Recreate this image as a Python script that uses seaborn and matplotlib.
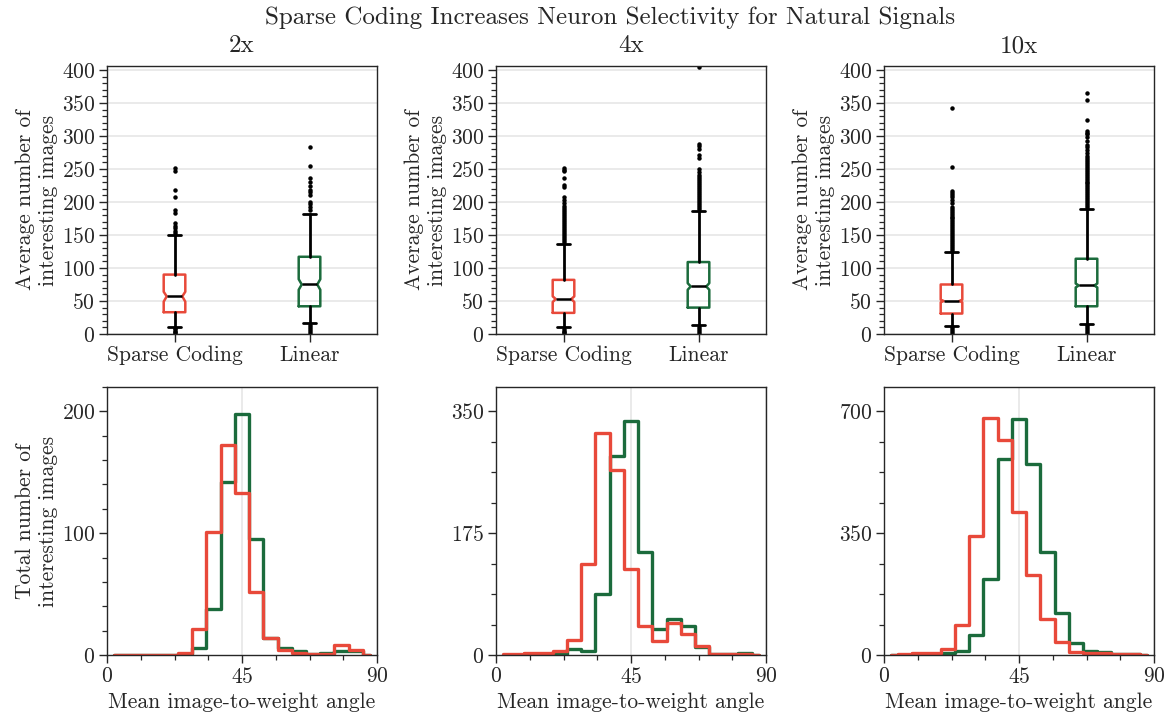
import matplotlib
matplotlib.use("Agg")
import matplotlib.pyplot as plt
from matplotlib.ticker import AutoMinorLocator
import seaborn as sns

# ---------------- data ----------------
panels = ["2x", "4x", "10x"]
methods = ["Sparse Coding", "Linear"]
suptitle = "Sparse Coding Increases Neuron Selectivity for Natural Signals"

# box summaries, per panel: [Sparse Coding, Linear]
box_q1 = [[33, 42], [32, 40], [31, 42]]
box_median = [[57, 75], [53, 72], [50, 73.5]]
box_q3 = [[90, 117], [82, 109], [75, 114]]
box_whislo = [[10.5, 16], [10, 13], [12, 15.5]]
box_whishi = [[150, 182], [137, 187], [124, 189]]
box_cilo = [[49, 67], [48.5, 67], [48, 70.5]]
box_cihi = [[64, 83], [57, 77], [52, 76.5]]

fliers_sc_2x = [1, 3, 5, 7, 9, 153, 156, 160, 164, 168, 184, 188, 207, 218, 247, 251]
fliers_lin_2x = [1, 4, 7, 10, 13, 188, 193, 197, 200, 211, 215, 218, 224, 230, 236, 255, 283]
fliers_sc_4x = [1, 3, 5, 7, 140, 143, 146, 149, 152, 155, 158, 161, 164, 167, 170, 173,
                176, 179, 182, 185, 188, 191, 194, 198, 203, 208, 222, 225, 236, 247, 249, 252]
fliers_lin_4x = [1, 4, 7, 10, 190, 193, 196, 199, 202, 205, 208, 211, 214, 217, 220, 223,
                 226, 229, 232, 235, 238, 241, 245, 250, 267, 271, 280, 285, 288, 405]
fliers_sc_10x = [1, 4, 7, 10, 127, 130, 133, 136, 139, 142, 145, 148, 151, 154, 157, 160,
                 163, 166, 169, 172, 175, 178, 181, 184, 187, 190, 193, 199, 203, 207, 211,
                 214, 217, 253, 342]
fliers_lin_10x = [1, 4, 7, 10, 13, 192, 195, 198, 201, 204, 207, 210, 213, 216, 219, 222,
                  225, 228, 231, 234, 237, 240, 243, 246, 249, 252, 255, 258, 261, 264, 267,
                  270, 274, 279, 283, 287, 292, 299, 303, 305, 308, 324, 354, 365]
box_fliers = [[fliers_sc_2x, fliers_lin_2x],
              [fliers_sc_4x, fliers_lin_4x],
              [fliers_sc_10x, fliers_lin_10x]]

# histogram: bin centres (19 bins over 0-90 deg) and counts
angle_centers = [2.37, 7.11, 11.84, 16.58, 21.32, 26.05, 30.79, 35.53, 40.26, 45.00,
                 49.74, 54.47, 59.21, 63.95, 68.68, 73.42, 78.16, 82.89, 87.63]
hist_sc_2x = [0, 0, 0, 0, 0, 2, 21, 101, 172, 133, 52, 14, 4, 2, 1, 1, 8, 4, 0]
hist_lin_2x = [0, 0, 0, 0, 0, 1, 6, 38, 142, 198, 95, 14, 6, 3, 1, 2, 3, 3, 0]
hist_sc_4x = [1, 1, 3, 3, 6, 22, 131, 319, 266, 123, 42, 20, 46, 30, 13, 1, 1, 1, 0]
hist_lin_4x = [0, 0, 1, 1, 1, 8, 6, 88, 286, 336, 148, 38, 51, 42, 12, 1, 1, 3, 0]
hist_sc_10x = [1, 2, 5, 7, 16, 87, 341, 680, 618, 411, 229, 103, 37, 8, 7, 7, 3, 2, 0]
hist_lin_10x = [0, 0, 0, 1, 5, 12, 58, 218, 564, 678, 548, 295, 122, 34, 12, 8, 4, 2, 0]
hist_counts = [[hist_sc_2x, hist_lin_2x],
               [hist_sc_4x, hist_lin_4x],
               [hist_sc_10x, hist_lin_10x]]
hist_ytick_max = [200, 350, 700]
angle_ticks = [0, 45, 90]
box_yticks = [0, 50, 100, 150, 200, 250, 300, 350, 400]

# ---------------- style ----------------
sns.set_theme(style="ticks")
plt.rcParams["font.family"] = ["cmr10", "DejaVu Serif"]
plt.rcParams["mathtext.fontset"] = "cm"
plt.rcParams["axes.unicode_minus"] = False
plt.rcParams["axes.formatter.use_mathtext"] = True

colors = {"Sparse Coding": "#e8493a", "Linear": "#1b6b3c"}
spine_col = "#262626"
grid_col = "#e6e6e6"
FS = 15.5
TFS = 18

W, H = 1168, 717
fig = plt.figure(figsize=(W / 100, H / 100), dpi=100)

lefts = [107, 496, 884]
ax_w, ax_h = 270, 268
top_row_top, bot_row_top = 66, 387


def make_ax(left, top):
    return fig.add_axes([left / W, 1 - (top + ax_h) / H, ax_w / W, ax_h / H])


def style_ax(ax):
    for s in ax.spines.values():
        s.set_color(spine_col)
        s.set_linewidth(1.0)
    ax.tick_params(which="major", direction="out", length=6, width=1.0,
                   color=spine_col, labelsize=FS, pad=2.5)
    ax.tick_params(which="minor", direction="out", length=3.5, width=0.9,
                   color=spine_col)


def shallow_notch(art, pos, width, frac=0.36):
    for b in art["boxes"]:
        xd = list(b.get_xdata())
        xd[3] = pos + width * frac
        xd[8] = pos - width * frac
        b.set_xdata(xd)
    for m in art["medians"]:
        m.set_xdata([pos - width * frac, pos + width * frac])


box_w = 0.16
for i, panel in enumerate(panels):
    # ---- top: boxplots ----
    ax = make_ax(lefts[i], top_row_top)
    style_ax(ax)
    for j, m in enumerate(methods):
        st = dict(med=box_median[i][j], q1=box_q1[i][j], q3=box_q3[i][j],
                  whislo=box_whislo[i][j], whishi=box_whishi[i][j],
                  cilo=box_cilo[i][j], cihi=box_cihi[i][j],
                  fliers=box_fliers[i][j], label=m)
        art = ax.bxp([st], positions=[j], widths=box_w, capwidths=0.09,
                     shownotches=True, showfliers=True, manage_ticks=False,
                     boxprops=dict(color=colors[m], linewidth=1.8),
                     whiskerprops=dict(color="black", linewidth=2.0),
                     capprops=dict(color="black", linewidth=2.0),
                     medianprops=dict(color="black", linewidth=1.8),
                     flierprops=dict(marker="o", markersize=2.2,
                                     markerfacecolor="black",
                                     markeredgecolor="black", linestyle="none"))
        shallow_notch(art, j, box_w)
    ax.set_xlim(-0.5, 1.5)
    ax.set_xticks(range(len(methods)))
    ax.set_xticklabels(methods)
    ax.set_ylim(0, 406)
    ax.set_yticks(box_yticks)
    ax.yaxis.set_minor_locator(AutoMinorLocator(5))
    ax.grid(axis="y", which="major", color=grid_col, linewidth=1.2)
    ax.set_axisbelow(True)
    ax.set_title(panel, fontsize=TFS, pad=10)
    ax.set_ylabel("Average number of\ninteresting images", fontsize=FS,
                  linespacing=1.2, labelpad=3)

    # ---- bottom: histograms ----
    axh = make_ax(lefts[i], bot_row_top)
    style_ax(axh)
    for j in [1, 0]:
        m = methods[j]
        sns.lineplot(x=angle_centers, y=hist_counts[i][j], ax=axh,
                     color=colors[m], linewidth=2.4, drawstyle="steps-mid",
                     legend=False)
    ymax = hist_ytick_max[i]
    axh.set_xlim(0, 90)
    axh.set_xticks(angle_ticks)
    axh.xaxis.set_minor_locator(AutoMinorLocator(4))
    axh.set_ylim(0, ymax * 1.1)
    axh.set_yticks([0, ymax // 2, ymax])
    axh.yaxis.set_minor_locator(AutoMinorLocator())
    axh.grid(axis="x", which="major", color=grid_col, linewidth=1.2)
    axh.set_axisbelow(True)
    axh.set_xlabel("Mean image-to-weight angle", fontsize=FS, labelpad=4)
    if i == 0:
        axh.set_ylabel("Total number of\ninteresting images", fontsize=FS,
                       linespacing=1.2, labelpad=3)
    else:
        axh.set_ylabel("")

fig.text(610 / W, 1 - 18 / H, suptitle, ha="center", va="center", fontsize=TFS)

fig.savefig("out.png", dpi=100)
